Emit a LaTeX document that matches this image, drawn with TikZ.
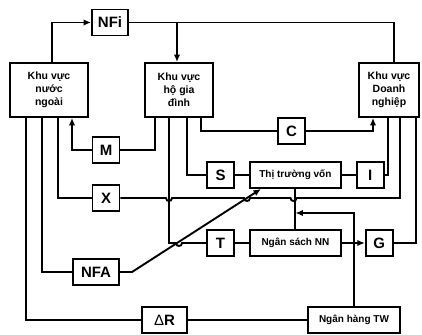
\documentclass[tikz,border=0pt]{standalone}
\usepackage{fontspec}
\setmainfont{Liberation Sans}
\usetikzlibrary{arrows.meta,positioning,calc}

\begin{document}
\begin{tikzpicture}[
    x=1pt, y=-1pt,
    font=\bfseries,
    line width=1.9pt,
    sector/.style={draw, align=center, inner sep=0pt, minimum height=54pt, font=\fontsize{10.5}{13}\selectfont\bfseries},
    flow/.style={draw, inner sep=0pt, minimum width=27pt, minimum height=26pt, font=\fontsize{15}{16}\selectfont\bfseries},
    inst/.style={draw, inner sep=0pt, minimum height=26pt, font=\fontsize{10}{12}\selectfont\bfseries},
    arr/.style={-{Latex[length=7.5pt,width=6.5pt]}}
]
\useasboundingbox (0,0) rectangle (422,334);

\node[flow, minimum width=36pt] (nfi) at (110,22.5) {NFi};
\node[sector, minimum width=78pt] (kvnn) at (49,90) {Khu vực\\nước\\ngoài};
\node[sector, minimum width=68pt] (hgd) at (179,90) {Khu vực\\hộ gia\\đình};
\node[sector, minimum width=60pt] (dn) at (389,90) {Khu vực\\Doanh\\nghiệp};
\node[flow] (m) at (106,150) {M};
\node[flow] (x) at (106,198) {X};
\node[flow] (c) at (291.5,131) {C};
\node[flow] (s) at (220.5,175) {S};
\node[inst, minimum width=91pt, right=14pt of s] (ttv) {Thị trường vốn};
\node[flow, right=14pt of ttv] (i) {I};
\node[flow] (t) at (220.5,243) {T};
\node[inst, minimum width=91pt, right=14pt of t] (nsnn) {Ngân sách NN};
\node[flow, right=23pt of nsnn] (g) {G};
\node[flow, minimum width=46pt] (nfa) at (96,272) {NFA};
\node[flow, minimum width=45pt] (dr) at (164.5,320) {{\mdseries Δ}R};
\node[inst, minimum width=92pt] (nhtw) at (354,320) {Ngân hàng TW};
\coordinate (join) at ($(ttv.south)!0.6!(nsnn.north)$);

% khu vuc nuoc ngoai
\draw[arr] (kvnn.north -| 52,0) |- (nfi.west);
\draw (nfi.east) -| (dn.north -| 394,0);
\draw[arr] (nfi.east -| 177,0) -- (hgd.north -| 177,0);
\draw (hgd.south -| 155,0) |- (m.east);
\draw[arr] (m.west) -| (kvnn.south -| 72,0);
\draw (kvnn.south -| 58,0) |- (x.west);
\draw (x.east) -- (166,198) .. controls (166,202) and (172,202) .. (172,198)
    -- (244,198) .. controls (244,202) and (250,202) .. (250,198)
    -- (290.5,198) .. controls (290.5,202) and (296.5,202) .. (296.5,198)
    -| (dn.south -| 400,0);
\draw (kvnn.south -| 42,0) |- (nfa.west);
\draw (kvnn.south -| 26,0) |- (dr.west);
\draw (dr.east) -- (nhtw.west);
\draw[arr] (nfa.east) -- (132,272) -- (ttv.south -| 261,0);

% ho gia dinh
\draw (hgd.south -| 169,0) |- (176,243) .. controls (176,247) and (182,247) .. (182,243) -- (t.west);
\draw (hgd.south -| 187,0) |- (s.west);
\draw (hgd.south -| 201,0) |- (c.west);
\draw[arr] (c.east) -| (dn.south -| 373,0);

% von va ngan sach
\draw (s) -- (ttv);
\draw (ttv) -- (i);
\draw (i.east) -| (dn.south -| 388,0);
\draw (dn.south -| 416,0) |- (g.east);
\draw (ttv.south) -- (nsnn.north);
\draw (t) -- (nsnn);
\draw[arr] (nsnn.east) -- (g.west);
\draw[arr] (nhtw.north) |- (join);

\end{tikzpicture}
\end{document}
